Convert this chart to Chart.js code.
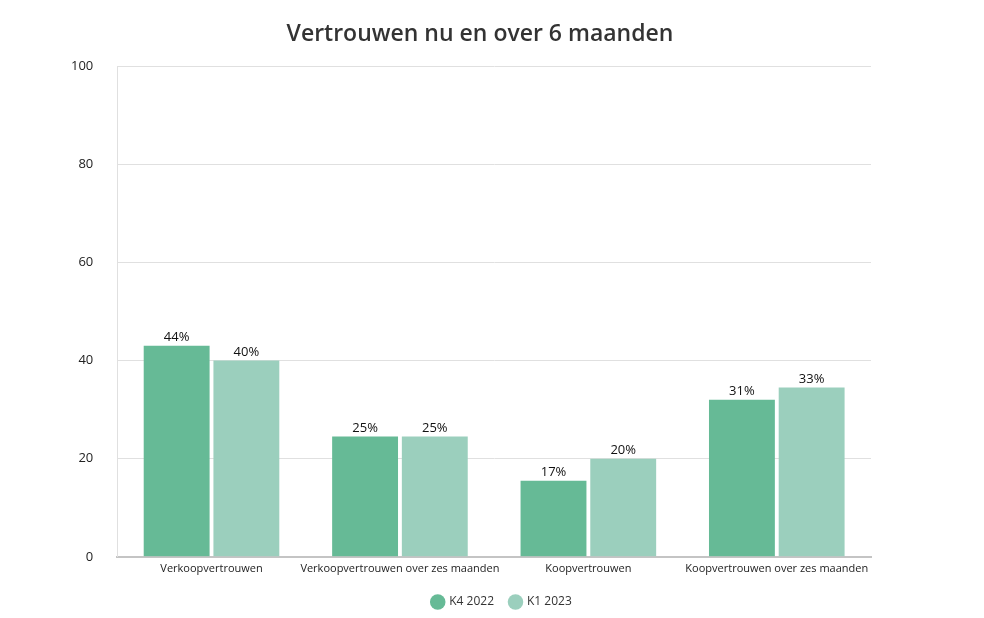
<!DOCTYPE html>
<html>
<head>
<meta charset="utf-8">
<script src="https://cdn.jsdelivr.net/npm/chart.js@4/dist/chart.umd.min.js"></script>
<style>
  html, body { margin: 0; padding: 0; background: #fff; }
  #wrap { width: 984px; height: 618px; }
</style>
</head>
<body>
<div id="wrap"><canvas id="chart" width="984" height="618"></canvas></div>
<script>
// Categories and series (bar heights, labels as printed)
let categories = ['Verkoopvertrouwen', 'Verkoopvertrouwen over zes maanden', 'Koopvertrouwen', 'Koopvertrouwen over zes maanden'];
let seriesNames = ['K4 2022', 'K1 2023'];
let valuesK4 = [43, 24.5, 15.5, 32];
let valuesK1 = [40, 24.5, 20, 34.5];
let labelsK4 = ['44%', '25%', '17%', '31%'];
let labelsK1 = ['40%', '25%', '20%', '33%'];
let yTicks = [0, 20, 40, 60, 80, 100];
let chartTitle = 'Vertrouwen nu en over 6 maanden';

let fontFamily = "'Open Sans', 'Lato', sans-serif";

// Print the value labels above each bar
const barLabels = {
    id: 'barLabels',
    afterDatasetsDraw(chart) {
        let ctx = chart.ctx;
        ctx.save();
        ctx.font = '13px ' + fontFamily;
        ctx.fillStyle = '#111';
        ctx.textAlign = 'center';
        ctx.textBaseline = 'bottom';
        chart.data.datasets.forEach((ds, i) => {
            chart.getDatasetMeta(i).data.forEach((bar, j) => {
                ctx.fillText(ds.printed[j], bar.x, bar.y - 2);
            });
        });
        ctx.restore();
    }
};

// Title centred on the whole canvas (built-in title follows layout padding)
const pageTitle = {
    id: 'pageTitle',
    afterDraw(chart) {
        let ctx = chart.ctx;
        ctx.save();
        ctx.font = '600 23px ' + fontFamily;
        ctx.fillStyle = '#333';
        ctx.textAlign = 'center';
        ctx.textBaseline = 'middle';
        ctx.fillText(chartTitle, 480, 34);
        ctx.restore();
    }
};

// The legend sits a bit right of the plot centre in the original
const legendShift = {
    id: 'legendShift',
    afterLayout(chart) {
        chart.legend.left += 43;
        chart.legend.right += 43;
    }
};

let ctx = document.getElementById('chart').getContext('2d');
new Chart(ctx, {
    type: 'bar',
    data: {
        labels: categories,
        datasets: [{
            label: seriesNames[0],
            data: valuesK4,
            printed: labelsK4,
            backgroundColor: '#66ba96',
            barPercentage: 0.945,
            categoryPercentage: 0.74
        }, {
            label: seriesNames[1],
            data: valuesK1,
            printed: labelsK1,
            backgroundColor: '#9bcfbd',
            barPercentage: 0.945,
            categoryPercentage: 0.74
        }]
    },
    options: {
        responsive: false,
        animation: false,
        layout: { padding: { left: 47, right: 113, top: 66, bottom: 0 } },
        scales: {
            x: {
                grid: { display: false, drawTicks: false },
                border: { color: '#c4c4c4', width: 2 },
                ticks: { color: '#222', font: { size: 11, family: fontFamily }, padding: 5, maxRotation: 0, autoSkip: false }
            },
            y: {
                min: 0,
                max: 100,
                afterBuildTicks(axis) { axis.ticks = yTicks.map(v => ({ value: v })); },
                grid: { color: '#e0e0e0', drawTicks: false },
                border: { color: '#e0e0e0' },
                ticks: { color: '#222', font: { size: 13, family: fontFamily }, padding: 24 }
            }
        },
        plugins: {
            title: { display: false },
            legend: {
                position: 'bottom',
                labels: {
                    usePointStyle: true,
                    pointStyle: 'circle',
                    boxWidth: 11,
                    boxHeight: 11,
                    color: '#333',
                    font: { size: 12, family: fontFamily },
                    padding: 16
                }
            },
            tooltip: { enabled: false }
        }
    },
    plugins: [barLabels, pageTitle, legendShift]
});
</script>
</body>
</html>
